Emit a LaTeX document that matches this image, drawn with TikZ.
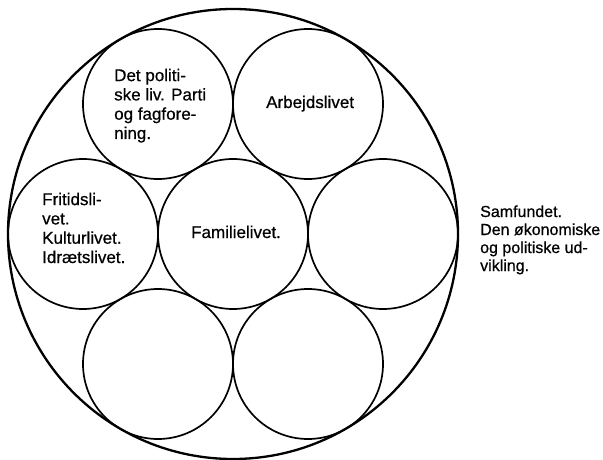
\documentclass[tikz,border=0pt]{standalone}
\usepackage{fontspec}
\setmainfont{Liberation Sans}[RawFeature={embolden=0.6}]
\begin{document}
\begin{tikzpicture}[x=1pt,y=-1pt,
  big/.style={circle,draw,line width=2.3pt,minimum size=450pt,inner sep=0pt},
  small/.style={circle,draw,line width=1.7pt,minimum size=150pt,inner sep=0pt},
  lbl/.style={inner sep=0pt,align=left,anchor=base west,font=\fontsize{17}{19.3}\selectfont},
  side/.style={inner sep=0pt,align=left,anchor=base west,font=\fontsize{16}{18}\selectfont}]
\useasboundingbox (0,0) rectangle (603,460);
\node[big] (world) at (233,234) {};
\node[small] (pol) at (158,104) {};
\node[small] (arb) at (308,104) {};
\node[small] (fri) at (83,234) {};
\node[small] (fam) at (233,234) {};
\node[small] (emptyR) at (383,234) {};
\node[small] (emptyBL) at (158,364) {};
\node[small] (emptyBR) at (308,364) {};
\node[lbl] (tpol) at (114,139) {Det politi-\\ske liv. Parti\\og fagfore-\\ning.};
\node[lbl] (tarb) at (266,108) {Arbejdslivet};
\node[lbl] (tfri) at (42,263) {Fritidsli-\\vet.\\Kulturlivet.\\Idrætslivet.};
\node[lbl] (tfam) at (191,238) {Familielivet.};
\node[side] (tsam) at (480,271) {Samfundet.\\Den økonomiske\\og politiske ud-\\vikling.};
\end{tikzpicture}
\end{document}
